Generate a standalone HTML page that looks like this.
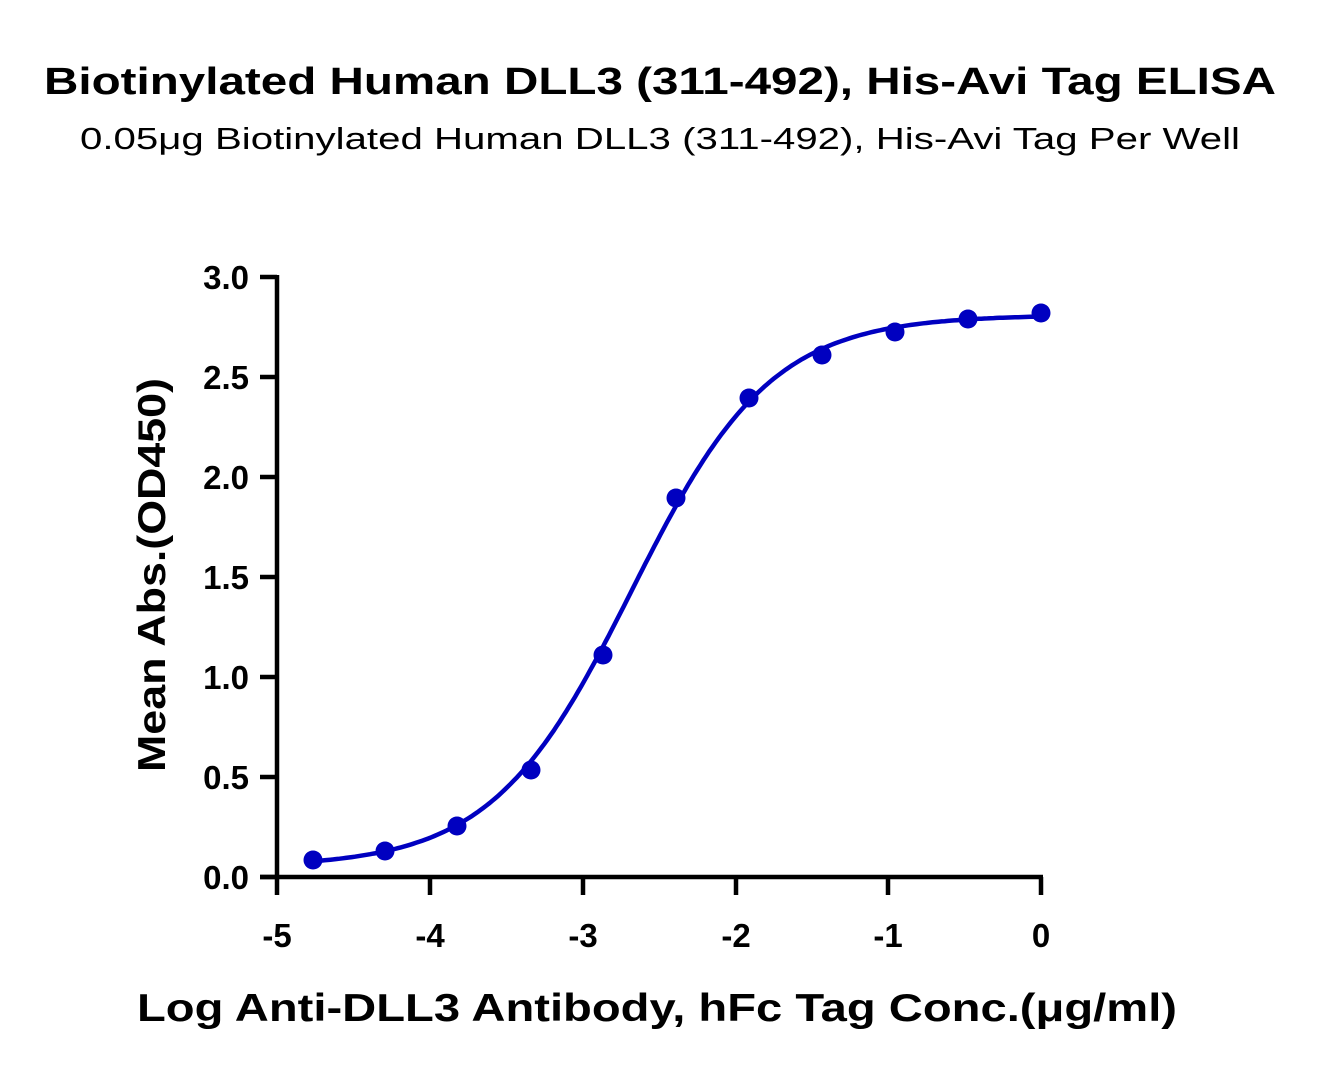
<!DOCTYPE html>
<html><head><meta charset="utf-8"><style>
html,body{margin:0;padding:0;background:#fff;}
svg{display:block;font-family:"Liberation Sans",sans-serif;}
</style></head><body>
<svg id="s" width="1319" height="1076" viewBox="0 0 1319 1076" xmlns="http://www.w3.org/2000/svg">
<text x="660" y="94" text-anchor="middle" font-size="38" font-weight="bold" textLength="1232" lengthAdjust="spacingAndGlyphs">Biotinylated Human DLL3 (311-492), His-Avi Tag ELISA</text>
<text x="660" y="149" text-anchor="middle" font-size="31" textLength="1160" lengthAdjust="spacingAndGlyphs">0.05μg Biotinylated Human DLL3 (311-492), His-Avi Tag Per Well</text>
<g stroke="#000" stroke-width="4.5" fill="none">
<path d="M277,275 V879 M260,877 H1043"/>
<path d="M260,277 H277 M260,377 H277 M260,477 H277 M260,577 H277 M260,677 H277 M260,777 H277 M260,877 H277"/>
<path d="M277,877 V895 M430,877 V895 M583,877 V895 M736,877 V895 M888,877 V895 M1041,877 V895"/>
</g>
<g font-size="33" font-weight="bold" text-anchor="end">
<text x="249" y="289">3.0</text><text x="249" y="389">2.5</text><text x="249" y="489">2.0</text>
<text x="249" y="589">1.5</text><text x="249" y="689">1.0</text><text x="249" y="789">0.5</text><text x="249" y="889">0.0</text>
</g>
<g font-size="33" font-weight="bold" text-anchor="middle">
<text x="277" y="947">-5</text><text x="430" y="947">-4</text><text x="583" y="947">-3</text>
<text x="736" y="947">-2</text><text x="888" y="947">-1</text><text x="1041" y="947">0</text>
</g>
<text x="657" y="1021" text-anchor="middle" font-size="39" font-weight="bold" textLength="1040" lengthAdjust="spacingAndGlyphs">Log Anti-DLL3 Antibody, hFc Tag Conc.(μg/ml)</text>
<text transform="translate(165,575) rotate(-90)" text-anchor="middle" font-size="39" font-weight="bold" textLength="394" lengthAdjust="spacingAndGlyphs">Mean Abs.(OD450)</text>
<path id="curve" fill="none" stroke="#0000c0" stroke-width="4.5"/>
<g fill="#0000c0">
<circle cx="313" cy="860" r="9.5"/><circle cx="385" cy="851" r="9.5"/><circle cx="457" cy="826" r="9.5"/>
<circle cx="531" cy="770" r="9.5"/><circle cx="603" cy="655" r="9.5"/><circle cx="676" cy="498" r="9.5"/>
<circle cx="749" cy="398" r="9.5"/><circle cx="822" cy="355" r="9.5"/><circle cx="895" cy="332" r="9.5"/>
<circle cx="968" cy="319" r="9.5"/><circle cx="1041" cy="313" r="9.5"/>
</g>
</svg>
<script>
var b=0.05,t=2.81,c=-2.68,h=0.95,d="";
for(var x=-4.77;x<=0.0001;x+=0.02){
 var y=b+(t-b)/(1+Math.pow(10,(c-x)*h));
 var px=277+(x+5)*152.8, py=877-y*200;
 d+=(d?"L":"M")+px.toFixed(1)+","+py.toFixed(1);
}
document.getElementById("curve").setAttribute("d",d);
</script>
</body></html>
